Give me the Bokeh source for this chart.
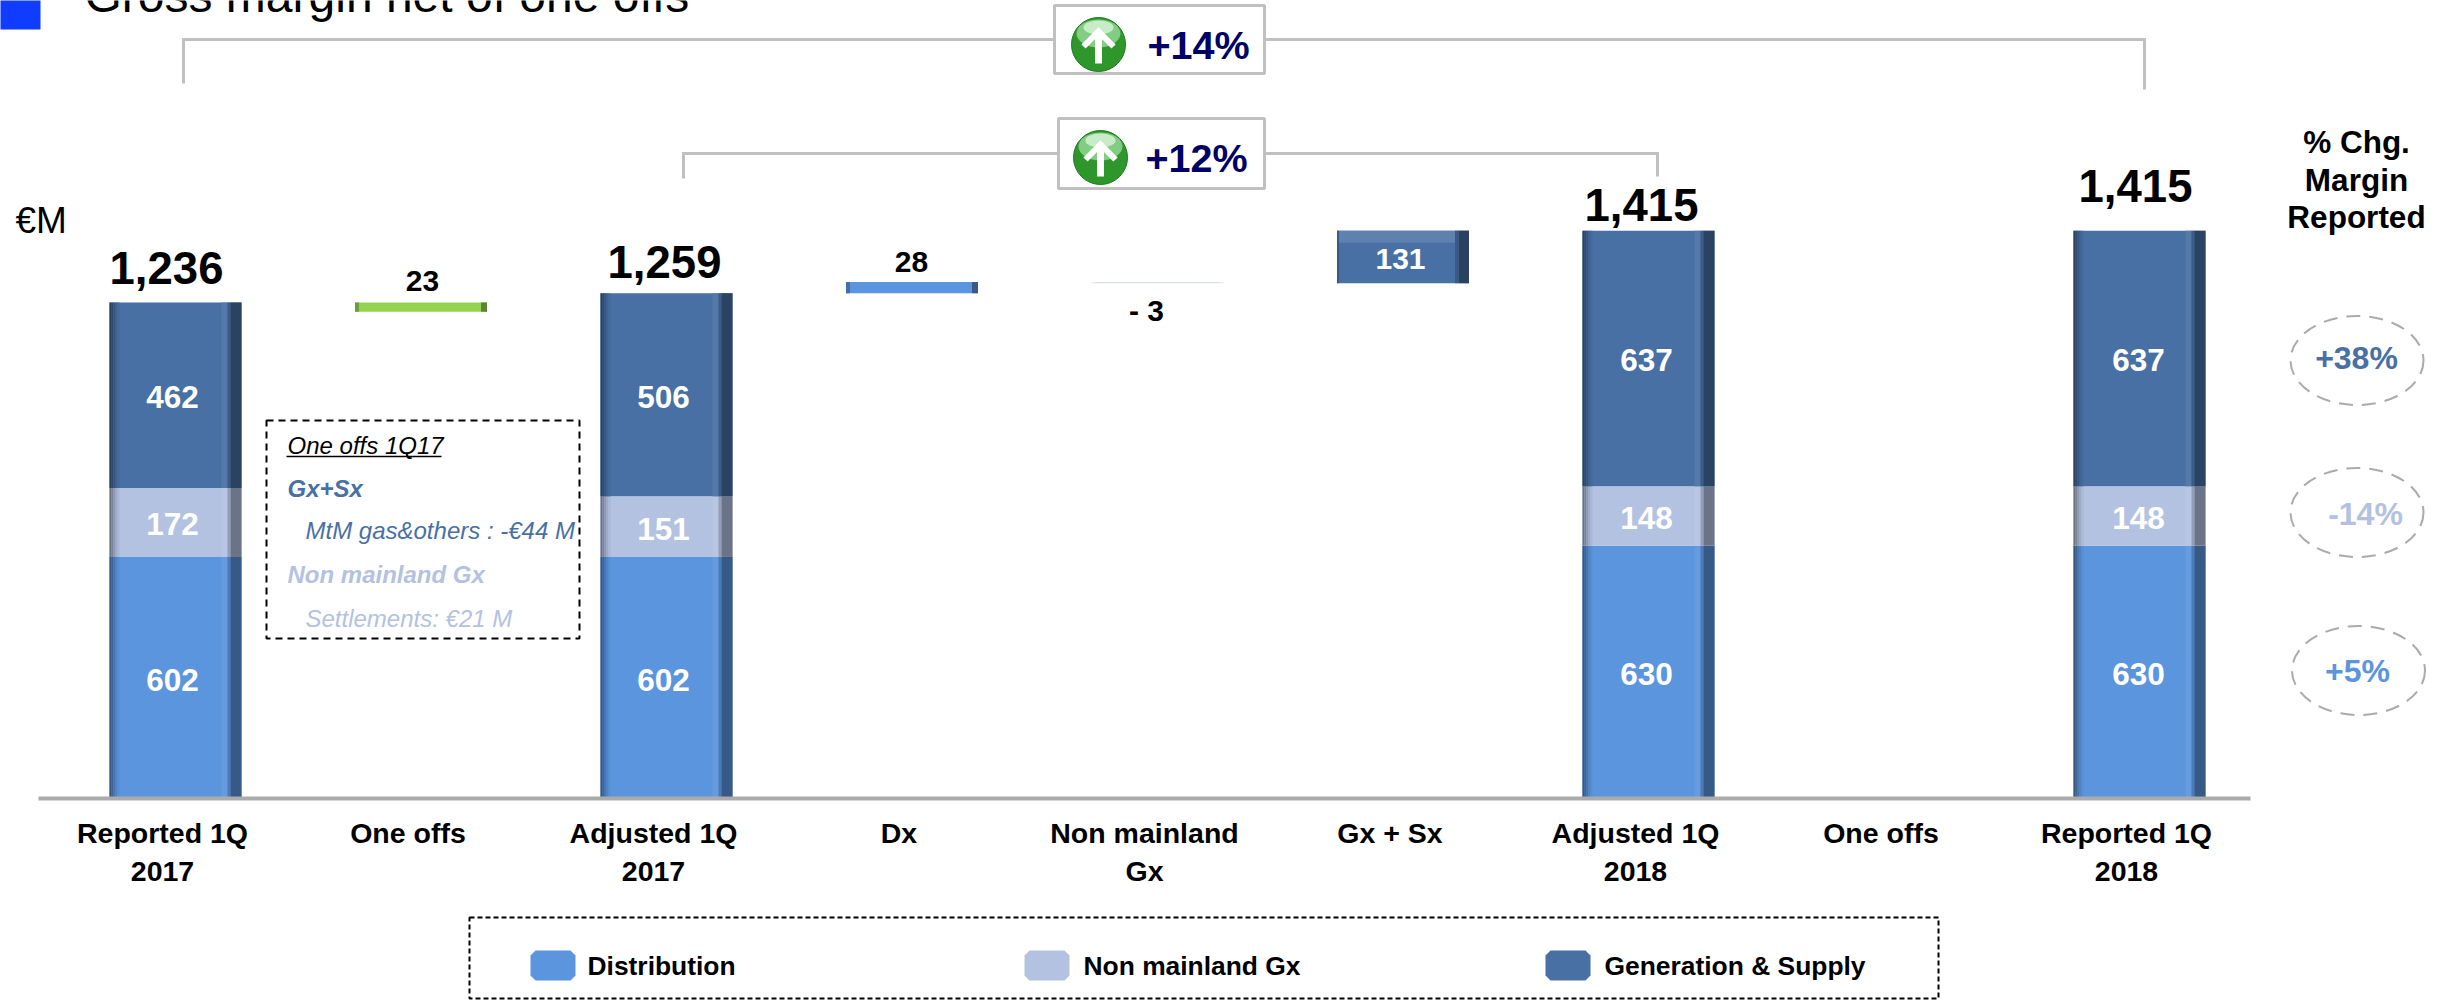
from bokeh.plotting import figure
from bokeh.models import Range1d, FixedTicker
from bokeh.core.properties import value
from bokeh.embed import file_html
from bokeh.resources import INLINE

# ---------- data ----------
categories = ["Reported 1Q\n2017", "One offs", "Adjusted 1Q\n2017", "Dx", "Non mainland\nGx",
              "Gx + Sx", "Adjusted 1Q\n2018", "One offs", "Reported 1Q\n2018"]
stack_pos = [0, 2, 6, 8]
distribution = [602, 602, 630, 630]
non_mainland = [172, 151, 148, 148]
generation = [462, 506, 637, 637]
totals = [1236, 1259, 1415, 1415]
step_pos = [1, 3, 4, 5]
step_labels = ["23", "28", "- 3", "131"]
step_bottom = [1213, 1259, 1284, 1284]
step_top = [1236, 1287, 1287, 1415]
pct_header = ["% Chg.", "Margin", "Reported"]
pct_labels = ["+38%", "-14%", "+5%"]
growth_labels = ["+14%", "+12%"]
legend_labels = ["Distribution", "Non mainland Gx", "Generation & Supply"]
oneoff_lines = ["One offs 1Q17", "Gx+Sx", "MtM gas&others : -€44 M", "Non mainland Gx", "Settlements: €21 M"]
title_text = "Gross margin net of one offs"

# ---------- style / scale ----------
C_D, C_N, C_G = "#5B95DD", "#B3C2E1", "#4870A4"
C_NAVY, C_GREY = "#000066", "#C0C0C0"
FONT = value("Liberation Sans")
PX_CAT, PX_ORIGIN, PX_UNIT, PX_BASE = 245.5, 162.0, 0.4013, 798.0
BAR_SHIFT = 13.0
BAR_W = 132.0
PAGE_L, PAGE_T, PAGE_R, PAGE_B = 0, 0, 2443, 1000

def X(px):
    return (px - PX_ORIGIN) / PX_CAT

def Y(py):
    return (PX_BASE - py) / PX_UNIT

def mix(c, other, f):
    a = [int(c[i:i+2], 16) for i in (1, 3, 5)]
    b = [int(other[i:i+2], 16) for i in (1, 3, 5)]
    return "#%02x%02x%02x" % tuple(round(x + (y - x) * f) for x, y in zip(a, b))

p = figure(width=PAGE_R - PAGE_L, height=PAGE_B - PAGE_T, output_backend="svg", toolbar_location=None,
           x_range=Range1d(X(PAGE_L), X(PAGE_R)), y_range=Range1d(Y(PAGE_B), Y(PAGE_T)),
           min_border=0, outline_line_color=None, background_fill_color="white", margin=0)
p.grid.visible = False
p.yaxis.visible = False
ax = p.xaxis[0]
ax.fixed_location = 0
ax.ticker = FixedTicker(ticks=list(range(len(categories))))
ax.major_label_overrides = {i: c for i, c in enumerate(categories)}
ax.major_tick_line_color = None
ax.minor_tick_line_color = None
ax.axis_line_color = "#ABABAB"
ax.axis_line_width = 4
ax.bounds = (X(38), X(2250))
ax.major_label_text_font = "Liberation Sans"
ax.major_label_text_font_style = "bold"
ax.major_label_text_font_size = "28.5px"
ax.major_label_text_color = "black"
ax.major_label_standoff = 12

def bar_x(i, px_offset=0.0):
    return i + (BAR_SHIFT + px_offset) / PX_CAT

STRIPS = [(0, 2, "#000000", .42), (2, 2, "#000000", .32), (4, 2, "#000000", .22), (6, 2, "#000000", .12),
          (8, 2, "#000000", .05), (112, 6, "#ffffff", .07), (118, 3, "#000000", .18), (121, 11, "#000000", .40)]

def draw_bar(i, bottom, top, color, strips=STRIPS, band=None):
    p.vbar(x=[bar_x(i)], width=BAR_W / PX_CAT, bottom=[bottom], top=[top], fill_color=color, line_color=None)
    if band:
        p.vbar(x=[bar_x(i)], width=BAR_W / PX_CAT, bottom=[top - band], top=[top],
               fill_color=mix(color, "#ffffff", .12), line_color=None)
    for off, w, tint, f in strips:
        p.vbar(x=[bar_x(i, -BAR_W / 2 + off + w / 2)], width=w / PX_CAT, bottom=[bottom], top=[top],
               fill_color=mix(color, tint, f), line_color=None)

MID = 0.3465  # distance, in em, from a text's middle to its alphabetic baseline

def text(px, py, s, size, color="black", style="normal", align="center"):
    p.text(x=[X(px)], y=[Y(py - MID * size)], text=[s], text_font=FONT, text_font_size=f"{size}px",
           text_font_style=style, text_color=color, text_align=align, text_baseline="middle")

# ---------- stacked bars ----------
label_dx = [-3, -3, -2, -1]
for n, i in enumerate(stack_pos):
    b = 0
    for vals, col in ((distribution, C_D), (non_mainland, C_N), (generation, C_G)):
        v = vals[n]
        draw_bar(i, b, b + v, col)
        p.text(x=[bar_x(i, label_dx[n])], y=[b + v / 2], text=[str(v)], text_font=FONT, text_font_size="31.5px",
               y_offset=2, text_font_style="bold", text_color="white", text_align="center", text_baseline="middle")
        b += v

# totals
total_px = [(166, 283), (664, 277), (1641, 220), (2135, 201)]
for t, (tx, ty) in zip(totals, total_px):
    text(tx, ty, f"{t:,}", 45.5, style="bold")

# ---------- step bars ----------
step_colors = ["#92D350", C_D, "#D5DDEE", C_G]
end_strips = [(0, 4, "#000000", .25), (126, 6, "#000000", .38)]
light_strips = [(0, 4, "#ffffff", .4), (128, 4, "#ffffff", .4)]
dark_strips = [(0, 2, "#000000", .2), (118, 4, "#000000", .2), (122, 10, "#000000", .42)]
step_strips = [end_strips, end_strips, light_strips, dark_strips]
step_bands = [None, None, None, 30]
for i, bt, tp, col, st, bd in zip(step_pos, step_bottom, step_top, step_colors, step_strips, step_bands):
    draw_bar(i, bt, tp, col, st, bd)
draw_x = [(422, 291, "black"), (911, 272, "black"), (1146, 320, "black"), (1400, 269, "white")]
for s, (tx, ty, col) in zip(step_labels, draw_x):
    text(tx, ty, s, 30, color=col, style="bold")

# ---------- brackets with growth boxes ----------
def poly(xs, ys, color=C_GREY, width=3, dash="solid"):
    p.line([X(a) for a in xs], [Y(a) for a in ys], line_color=color, line_width=width, line_dash=dash, line_join="miter")

poly([183, 183, 2144, 2144], [83, 39, 39, 89])
poly([683, 683, 1657, 1657], [178, 153, 153, 176])

def box(l, t, r, b, fill, line, width, dash="solid"):
    p.quad(left=[X(l)], right=[X(r)], top=[Y(t)], bottom=[Y(b)], fill_color=fill, fill_alpha=1 if fill else 0,
           line_color=line, line_width=width, line_dash=dash)

def icon(cx, cy):
    p.ellipse(x=[X(cx)], y=[Y(cy)], width=54, height=54, width_units="screen", height_units="screen",
              fill_color="#2F962C", line_color="#1E7A1E", line_width=1)
    p.ellipse(x=[X(cx)], y=[Y(cy - 11)], width=44, height=28, width_units="screen", height_units="screen",
              fill_color="#83CC83", line_color=None)
    p.ellipse(x=[X(cx)], y=[Y(cy - 17)], width=30, height=14, width_units="screen", height_units="screen",
              fill_color="#C8EBC8", line_color=None)
    p.line([X(cx), X(cx)], [Y(cy - 14), Y(cy + 19)], line_color="white", line_width=7)
    p.line([X(cx - 15), X(cx), X(cx + 15)], [Y(cy + 2), Y(cy - 13), Y(cy + 2)], line_color="white", line_width=6,
           line_join="miter")

box(1054, 5, 1264, 73, "white", C_GREY, 3)
box(1058, 118, 1264, 188, "white", C_GREY, 3)
icon(1098, 44)
icon(1100, 157)
text(1198, 58, growth_labels[0], 39.5, color=C_NAVY, style="bold")
text(1196, 171, growth_labels[1], 39.5, color=C_NAVY, style="bold")

# ---------- title, unit ----------
box(-5, -5, 40, 29, "#0F3CFF", None, 0)
text(84, 12, title_text, 48, align="left")
text(15, 233, "€M", 37, align="left")

# ---------- one-offs note ----------
box(266, 420, 579, 638, None, "black", 2, "7 5")
one_style = [(287, 453, "black", "italic"), (287, 496, C_G, "bold italic"), (305, 538, C_G, "italic"),
             (287, 582, C_N, "bold italic"), (305, 626, C_N, "italic")]
for s, (tx, ty, col, st) in zip(oneoff_lines, one_style):
    text(tx, ty, s, 24, color=col, style=st, align="left")
poly([286, 441], [456, 456], color="black", width=1.5)

# ---------- right column ----------
for s, ty in zip(pct_header, (152, 190, 227)):
    text(2356, ty, s, 31.5, style="bold")
pct_pos = [(2356.5, 360, 2356, 369, C_G), (2356.5, 512, 2365, 525, C_N), (2358, 670, 2357, 682, C_D)]
for s, (ex, ey, tx, ty, col) in zip(pct_labels, pct_pos):
    p.ellipse(x=[X(ex)], y=[Y(ey)], width=133, height=89, width_units="screen", height_units="screen",
              fill_alpha=0, line_color="#ABABAB", line_width=2, line_dash="14 9")
    text(tx, ty, s, 32, color=col, style="bold")

# ---------- legend ----------
box(469, 917, 1938, 998, None, "black", 2, "5 3")
def swatch(l, t, r, b, col, rad=5):
    xs = [l + rad, r - rad, r, r, r - rad, l + rad, l, l]
    ys = [t, t, t + rad, b - rad, b, b, b - rad, t + rad]
    p.patch([X(a) for a in xs], [Y(a) for a in ys], fill_color=col, line_color=None)
for s, (sl, tl), col in zip(legend_labels, [(530, 587), (1024, 1083), (1545, 1604)], (C_D, C_N, C_G)):
    swatch(sl, 950, sl + 45, 980, col)
    text(tl, 975, s, 26.4, style="bold", align="left")

open("out.html", "w").write(file_html(p, INLINE))
